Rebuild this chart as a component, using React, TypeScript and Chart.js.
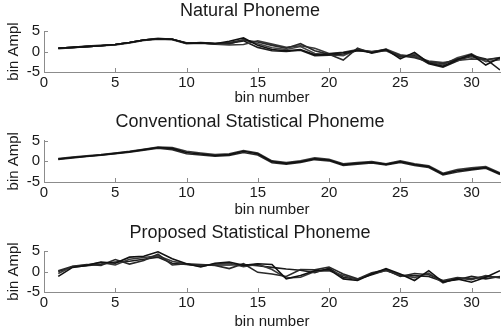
import React, { useEffect, useRef } from 'react';
import { Chart, registerables } from 'chart.js';

Chart.register(...registerables);

const bins = [1, 2, 3, 4, 5, 6, 7, 8, 9, 10, 11, 12, 13, 14, 15, 16, 17, 18, 19, 20, 21, 22, 23, 24, 25, 26, 27, 28, 29, 30, 31, 32];

const xTickValues = [0, 5, 10, 15, 20, 25, 30];
const yTickValues = [-5, 0, 5];

const titles = ['Natural Phoneme', 'Conventional Statistical Phoneme', 'Proposed Statistical Phoneme'];
const xAxisTitle = 'bin number';
const yAxisTitle = 'bin Ampl';

// Natural Phoneme (5 utterances)
const natA = [0.8, 1.0, 1.2, 1.4, 1.7, 2.2, 2.8, 3.1, 3.0, 2.0, 2.1, 1.9, 2.5, 3.3, 1.5, 0.5, 0.2, 0.5, -0.8, -0.6, -0.3, 0.3, -0.3, 0.5, -1.8, -0.2, -2.8, -3.6, -2.0, -0.7, -3.3, -1.5];
const natB = [0.8, 1.0, 1.2, 1.4, 1.7, 2.2, 2.8, 3.1, 3.0, 2.1, 2.1, 1.9, 2.2, 2.8, 2.3, 1.5, 0.8, 1.9, 0.2, -0.7, -2.1, 0.8, -0.4, 0.3, -1.0, -1.5, -2.5, -3.0, -1.8, -1.3, -2.0, -1.5];
const natC = [0.7, 0.9, 1.2, 1.4, 1.6, 2.1, 2.7, 3.0, 2.9, 1.9, 2.0, 1.8, 1.6, 1.7, 2.6, 1.8, 1.0, 1.4, 0.8, -0.5, -0.2, 0.5, -0.2, 0.6, -0.8, -1.2, -2.3, -2.7, -2.2, -1.8, -2.0, -1.6];
const natD = [0.8, 1.0, 1.3, 1.5, 1.7, 2.2, 2.8, 3.1, 3.0, 2.0, 2.2, 2.0, 2.0, 2.6, 1.0, 0.2, 0.0, 0.3, -1.0, -0.9, -0.6, 0.2, 0.0, 0.4, -1.2, -1.0, -3.0, -3.8, -2.3, -1.0, -1.8, -4.5];
const natE = [0.8, 1.0, 1.2, 1.4, 1.7, 2.2, 2.8, 3.2, 3.0, 2.0, 2.1, 1.9, 1.8, 2.9, 1.9, 0.9, 0.5, 1.2, -0.5, -0.8, -1.0, 0.5, -0.1, 0.2, -1.4, -0.6, -2.6, -3.3, -1.5, -0.6, -2.5, -2.0];

// Conventional Statistical Phoneme (near-identical utterances)
const convA = [0.55, 0.9, 1.2, 1.5, 1.9, 2.3, 2.8, 3.3, 3.1, 2.1, 1.75, 1.4, 1.6, 2.4, 1.8, -0.1, -0.5, -0.1, 0.6, 0.3, -0.8, -0.5, -0.25, -0.75, -0.1, -0.8, -1.3, -3.1, -2.3, -1.9, -1.5, -3.0];
const convB = [0.45, 0.8, 1.15, 1.45, 1.8, 2.2, 2.65, 3.15, 2.8, 1.8, 1.5, 1.2, 1.4, 2.1, 1.5, -0.35, -0.7, -0.3, 0.4, 0.1, -1.0, -0.7, -0.4, -0.9, -0.3, -1.0, -1.5, -3.3, -2.6, -2.1, -1.7, -3.2];
const convC = [0.65, 1.0, 1.3, 1.6, 2.0, 2.4, 2.9, 3.4, 3.3, 2.4, 2.0, 1.6, 1.8, 2.6, 2.0, 0.1, -0.3, 0.1, 0.8, 0.5, -0.6, -0.3, -0.1, -0.6, 0.1, -0.6, -1.1, -2.9, -2.0, -1.6, -1.3, -2.8];

// Proposed Statistical Phoneme (4 utterances)
const propA = [-1.2, 1.0, 1.5, 2.3, 2.0, 3.5, 3.7, 4.8, 3.1, 1.9, 1.1, 2.0, 2.3, 1.5, 1.9, 1.7, -1.8, -1.0, 0.2, 0.5, -1.8, -2.2, -0.6, 0.7, -0.6, -2.2, 0.2, -2.6, -1.8, -2.6, -1.4, 0.2];
const propB = [0.2, 1.3, 1.7, 1.5, 2.9, 1.8, 2.7, 4.2, 1.6, 1.9, 1.7, 1.5, 0.7, 1.9, -0.2, -0.6, -1.2, 0.5, 0.4, 1.1, -0.6, -1.8, -0.3, 0.4, -1.2, -0.5, -0.8, -2.2, -1.5, -1.8, -1.2, -1.4];
const propC = [-0.5, 1.2, 1.6, 2.2, 1.6, 3.0, 3.4, 3.8, 2.5, 1.8, 1.3, 1.8, 2.0, 1.2, 1.8, 0.5, -1.6, -1.4, 0.0, 0.2, -1.0, -2.0, -0.5, 0.2, -0.8, -1.5, -0.4, -2.8, -1.6, -2.0, -1.0, -1.6];
const propD = [0.0, 1.1, 1.4, 1.8, 2.3, 2.5, 3.0, 3.5, 2.0, 1.7, 1.5, 1.6, 1.6, 1.7, 1.4, 1.0, 0.6, 0.3, -0.3, 0.8, -1.4, -1.9, -0.8, 0.3, -1.0, -1.0, -1.2, -2.4, -2.0, -1.2, -1.8, -1.2];

const panelSeries = [
  [natA, natB, natC, natD, natE],
  [convA, convB, convC],
  [propA, propB, propC, propD],
];

const FONT = "'Liberation Sans', Arial, Helvetica, sans-serif";
const AXIS_COLOR = '#8c8c8c';
const TEXT_COLOR = '#1a1a1a';
const LINE_COLORS = ['#111111', '#2a2a2a', '#3a3a3a', '#1c1c1c', '#444444'];

const CANVAS_H = 110;
const layouts = [
  { top: 0, titleCenter: 10.5, areaTop: 31, areaBottom: 72, xTitleCenter: 98 },
  { top: 110, titleCenter: 12.5, areaTop: 30.5, areaBottom: 72, xTitleCenter: 100 },
  { top: 221, titleCenter: 12, areaTop: 30, areaBottom: 71, xTitleCenter: 101 },
];

const inwardTicks = {
  id: 'inwardTicks',
  afterDatasetsDraw(chart: any) {
    const { ctx, chartArea: a, scales } = chart;
    const x = scales.x;
    const y = scales.y;
    ctx.save();
    ctx.strokeStyle = AXIS_COLOR;
    ctx.lineWidth = 1;
    ctx.beginPath();
    x.ticks.forEach((t: any) => {
      const px = Math.round(x.getPixelForValue(t.value)) + 0.5;
      ctx.moveTo(px, a.bottom);
      ctx.lineTo(px, a.bottom - 4);
    });
    y.ticks.forEach((t: any) => {
      const py = Math.round(y.getPixelForValue(t.value)) + 0.5;
      ctx.moveTo(a.left, py);
      ctx.lineTo(a.left + 4, py);
    });
    ctx.stroke();
    ctx.restore();
  },
};

function Panel({ index }: { index: number }) {
  const ref = useRef<HTMLCanvasElement | null>(null);
  useEffect(() => {
    if (!ref.current) return;
    const L = layouts[index];
    const titleLine = 18 * 1.2;
    const padTop = Math.max(0, L.titleCenter - titleLine / 2);
    const titleBottomPad = L.areaTop - padTop - titleLine;
    const xTitleLine = 15 * 1.2;
    const xTitleBottomPad = Math.max(0, CANVAS_H - L.xTitleCenter - xTitleLine / 2);
    const chart = new Chart(ref.current, {
      type: 'line',
      data: {
        datasets: panelSeries[index].map((vals, i) => ({
          data: bins.map((b, j) => ({ x: b, y: vals[j] })),
          borderColor: LINE_COLORS[i % LINE_COLORS.length],
          borderWidth: 1.6,
          pointRadius: 0,
          tension: 0,
          fill: false,
        })),
      },
      plugins: [inwardTicks],
      options: {
        animation: false,
        responsive: false,
        events: [],
        layout: { padding: { top: padTop, left: 0, right: 1, bottom: 0 } },
        plugins: {
          legend: { display: false },
          tooltip: { enabled: false },
          title: {
            display: true,
            text: titles[index],
            color: TEXT_COLOR,
            font: { family: FONT, size: 18, weight: 'normal', lineHeight: 1.2 },
            padding: { top: 0, bottom: titleBottomPad },
          },
        },
        scales: {
          x: {
            type: 'linear',
            min: 0,
            max: 32,
            afterBuildTicks: (scale: any) => {
              scale.ticks = xTickValues.map((v) => ({ value: v }));
            },
            afterFit: (scale: any) => {
              scale.height = CANVAS_H - L.areaBottom;
            },
            ticks: {
              color: TEXT_COLOR,
              font: { family: FONT, size: 15 },
              padding: 2,
              maxRotation: 0,
              autoSkip: false,
            },
            grid: { display: true, drawOnChartArea: false, drawTicks: false },
            border: { display: true, color: AXIS_COLOR, width: 1 },
            title: {
              display: true,
              text: xAxisTitle,
              color: TEXT_COLOR,
              font: { family: FONT, size: 15, lineHeight: 1.2 },
              padding: { top: 0, bottom: xTitleBottomPad },
            },
          },
          y: {
            type: 'linear',
            min: -5,
            max: 5,
            afterBuildTicks: (scale: any) => {
              scale.ticks = yTickValues.map((v) => ({ value: v }));
            },
            afterFit: (scale: any) => {
              scale.width = 44;
            },
            ticks: {
              color: TEXT_COLOR,
              font: { family: FONT, size: 15 },
              padding: 4,
              autoSkip: false,
            },
            grid: { display: true, drawOnChartArea: false, drawTicks: false },
            border: { display: true, color: AXIS_COLOR, width: 1 },
            title: {
              display: true,
              text: yAxisTitle,
              color: TEXT_COLOR,
              font: { family: FONT, size: 15, lineHeight: 1.2 },
              padding: { top: 5, bottom: 0 },
            },
          },
        },
      } as any,
    });
    return () => chart.destroy();
  }, [index]);
  const L = layouts[index];
  return (
    <canvas
      ref={ref}
      width={501}
      height={CANVAS_H}
      style={{ position: 'absolute', left: 0, top: L.top, width: 501, height: CANVAS_H, display: 'block' }}
    />
  );
}

export default function App() {
  return (
    <div style={{ position: 'absolute', left: 0, top: 0, width: 501, height: 336, background: '#ffffff', overflow: 'hidden' }}>
      <Panel index={0} />
      <Panel index={1} />
      <Panel index={2} />
    </div>
  );
}
